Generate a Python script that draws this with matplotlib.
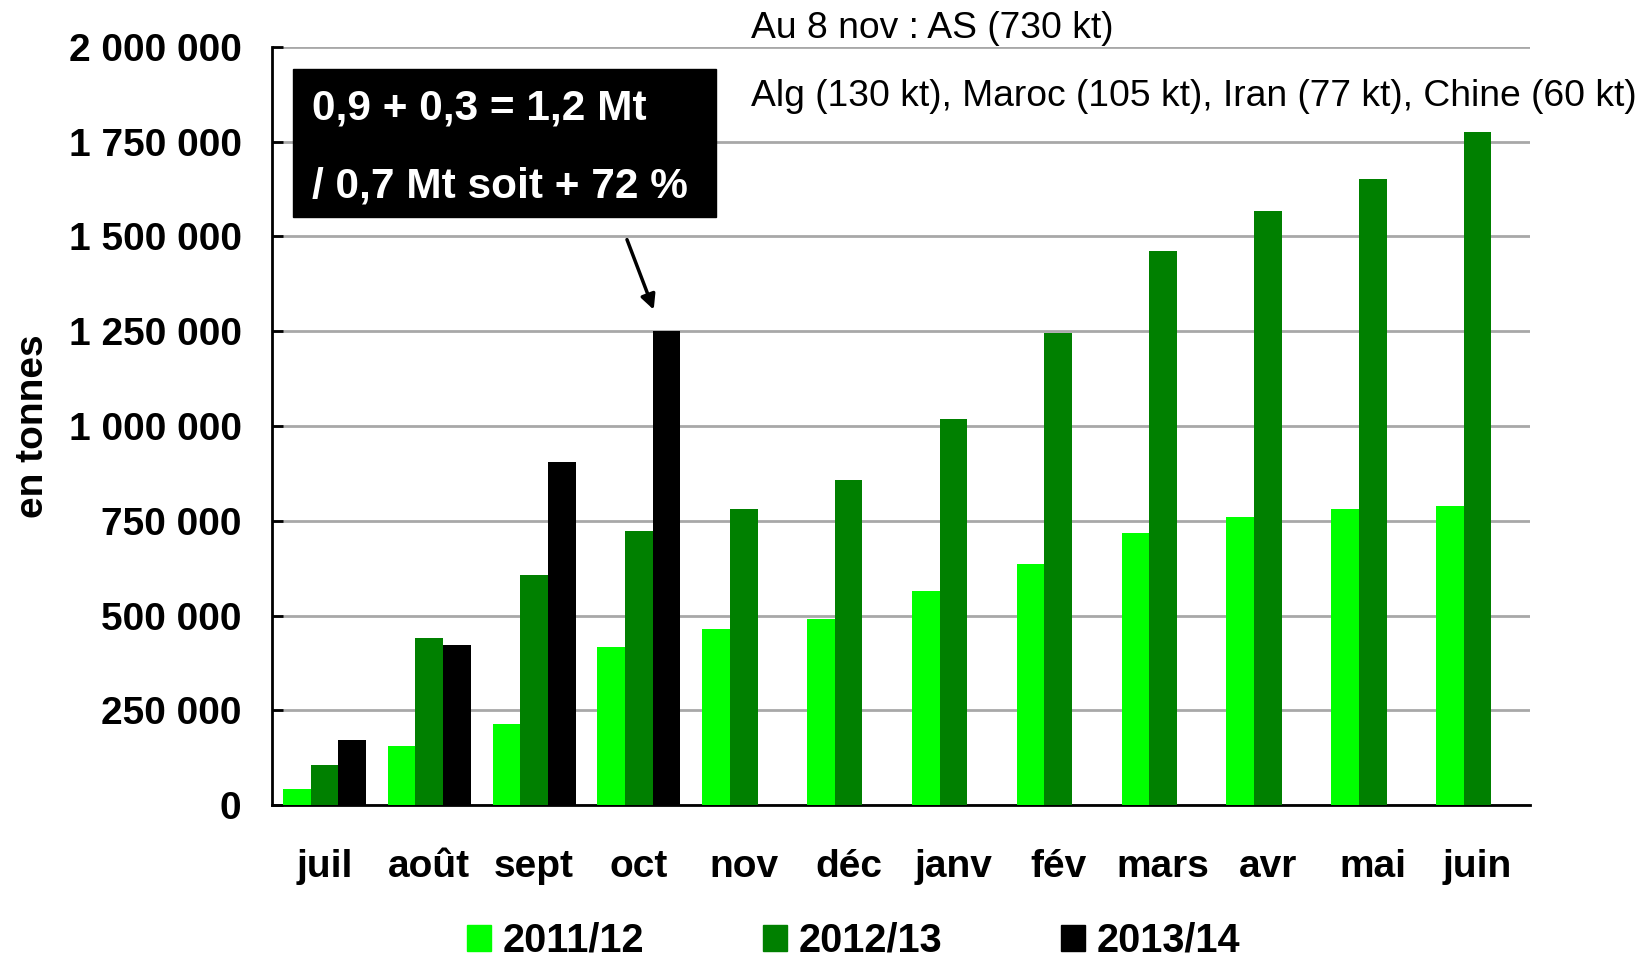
import numpy as np
import matplotlib
matplotlib.use("Agg")
import matplotlib.pyplot as plt
from matplotlib.patches import Patch, Rectangle

plt.rcParams['font.family'] = ['Liberation Sans', 'DejaVu Sans']

months = ["juil", "août", "sept", "oct", "nov", "déc", "janv", "fév", "mars", "avr", "mai", "juin"]
seasons = ["2011/12", "2012/13", "2013/14"]
colors = ["#00ff00", "#008000", "#000000"]

# cumulative exports, tonnes
s2011 = [42000, 155000, 213000, 416000, 464000, 492000, 564000, 636000, 719000, 759000, 780000, 788000]
s2012 = [105000, 442000, 606000, 724000, 782000, 858000, 1019000, 1245000, 1463000, 1568000, 1652000, 1776000]
s2013 = [171000, 421000, 906000, 1250000]

yticks = np.arange(0, 2000001, 250000)
ytick_labels = ["{:,}".format(v).replace(",", " ") for v in yticks]

fig = plt.figure(figsize=(16.51, 9.57), dpi=100)
ax = fig.add_axes([0.1648, 0.1588, 0.7619, 0.7921])

x = np.arange(len(months))
w = 0.264
ax.bar(x - w, s2011, w, color=colors[0], zorder=3)
ax.bar(x, s2012, w, color=colors[1], zorder=3)
ax.bar(x[:len(s2013)] + w, s2013, w, color=colors[2], zorder=3)

ax.set_xlim(-0.5, len(months) - 0.5)
ax.set_ylim(0, 2000000)
ax.set_yticks(yticks)
ax.set_yticklabels(ytick_labels, fontsize=28, fontweight='bold')
ax.set_xticks(x)
ax.set_xticklabels(months, fontsize=28, fontweight='bold')
ax.tick_params(axis='x', length=0, pad=32)
ax.tick_params(axis='y', direction='in', length=8, width=2, pad=22)
ax.yaxis.grid(True, color='#a8a8a8', lw=2, zorder=0)
for side in ['top', 'right']:
    ax.spines[side].set_visible(False)
for side in ['left', 'bottom']:
    ax.spines[side].set_linewidth(2)
ax.set_ylabel("en tonnes", fontsize=28, fontweight='bold')
ax.yaxis.set_label_coords(-0.176, 0.5)

# black note box
fig.patches.append(Rectangle((293 / 1651, 1 - 217 / 957), 423 / 1651, 148 / 957,
                             transform=fig.transFigure, color='black', zorder=5))
fig.text(312 / 1651, 1 - 108 / 957, "0,9 + 0,3 = 1,2 Mt", color='white',
         fontsize=30.5, fontweight='bold', va='center', zorder=6)
fig.text(312 / 1651, 1 - 186 / 957, "/ 0,7 Mt soit + 72 %", color='white',
         fontsize=30.5, fontweight='bold', va='center', zorder=6)
ax.annotate("", xy=(3.15, 1300000), xycoords='data',
            xytext=(626, 957 - 237), textcoords='figure pixels',
            arrowprops=dict(arrowstyle='-|>', color='black', lw=2.5, mutation_scale=22))

fig.text(751 / 1651, 1 - 28 / 957, "Au 8 nov : AS (730 kt)", fontsize=26.8, va='center')
fig.text(751 / 1651, 1 - 97 / 957, "Alg (130 kt), Maroc (105 kt), Iran (77 kt), Chine (60 kt)",
         fontsize=26.8, va='center')

handles = [Patch(color=c) for c in colors]
fig.legend(handles, seasons, loc='center', bbox_to_anchor=(0.517, 1 - 941 / 957), ncol=3,
           frameon=False, prop=dict(size=28.5, weight='bold'), handlelength=0.6,
           handleheight=0.6, handletextpad=0.3, columnspacing=3.0)

fig.savefig("out.png", dpi=100)
